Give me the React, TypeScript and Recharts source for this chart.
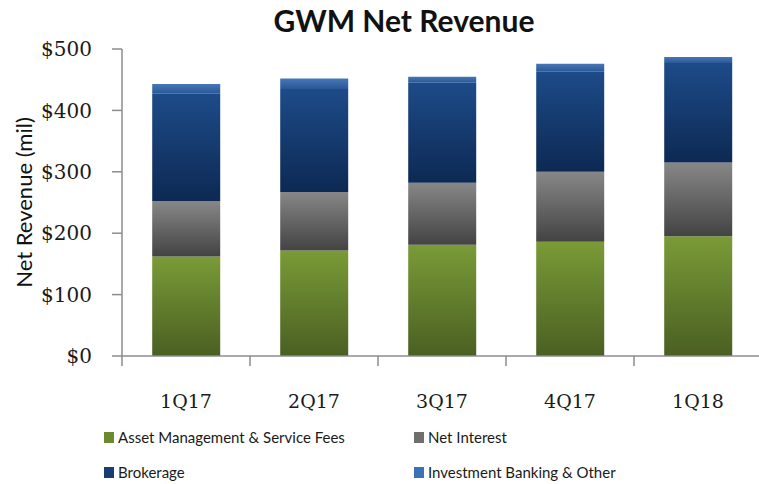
import React from 'react';
import { BarChart, Bar, XAxis, YAxis, Legend, Label } from 'recharts';

// values ($ mil)
const quarters = ['1Q17', '2Q17', '3Q17', '4Q17', '1Q18'];
const assetMgmt = [162, 172, 181, 186, 195];
const netInterest = [90, 95, 101, 114, 120];
const brokerage = [175, 168, 163, 163, 162];
const ibOther = [16, 17, 10, 13, 10];
const yTicks = [0, 100, 200, 300, 400, 500];

const seriesInfo = [
    { key: 'asset', name: 'Asset Management & Service Fees', swatch: '#6b8a2f', grad: 'gGreen' },
    { key: 'interest', name: 'Net Interest', swatch: '#6f6f6f', grad: 'gGray' },
    { key: 'brokerage', name: 'Brokerage', swatch: '#173d73', grad: 'gNavy' },
    { key: 'ib', name: 'Investment Banking & Other', swatch: '#3c72b8', grad: 'gBlue' },
];

const W = 759;
const H = 484;
const AXIS_W = 122;
const RIGHT = -3;
const HALF_BAND = (W - AXIS_W - RIGHT) / quarters.length / 2;

const serif = '"DejaVu Serif", serif';
const sans = 'Lato, "Open Sans", sans-serif';

const QuarterTick = (props: any) => {
    const { x, y, payload } = props;
    const half = payload && payload.offset ? payload.offset : HALF_BAND;
    return (
        <g>
            <line x1={x - half} x2={x - half} y1={y} y2={y + 10} stroke="#8c8c8c" strokeWidth={1.5} />
            <text x={x} y={y + 52} textAnchor="middle" fontFamily={serif} fontSize={19} fill="#1a1a1a">
                {payload.value}
            </text>
        </g>
    );
};

const LegendBox = () => {
    const cols = [104, 414];
    const rows = [17, 52];
    return (
        <div style={{ position: 'relative', width: W, height: 64 }}>
            {seriesInfo.map((s, i) => (
                <div
                    key={s.key}
                    style={{
                        position: 'absolute',
                        left: cols[i % 2],
                        top: rows[Math.floor(i / 2)] - 9,
                        height: 18,
                        display: 'flex',
                        alignItems: 'center',
                        fontFamily: sans,
                        fontSize: 15,
                        color: '#1a1a1a',
                        whiteSpace: 'nowrap',
                    }}
                >
                    <span style={{ width: 10, height: 11, background: s.swatch, marginRight: 4, display: 'inline-block' }} />
                    {s.name}
                </div>
            ))}
        </div>
    );
};

export default function App() {
    const data = quarters.map((q, i) => ({
        quarter: q,
        asset: assetMgmt[i],
        interest: netInterest[i],
        brokerage: brokerage[i],
        ib: ibOther[i],
    }));

    return (
        <div style={{ position: 'fixed', left: 0, top: 0, width: W, height: H, background: '#fff', overflow: 'hidden' }}>
            <div
                style={{
                    position: 'absolute',
                    left: 0,
                    width: 808,
                    top: 2,
                    textAlign: 'center',
                    fontFamily: sans,
                    fontWeight: 700,
                    fontSize: 30,
                    color: '#111',
                }}
            >
                GWM Net Revenue
            </div>
            <BarChart
                width={W}
                height={H}
                data={data}
                margin={{ top: 49, right: RIGHT, left: 0, bottom: 0 }}
                barCategoryGap="23.6%"
            >
                <defs>
                    <linearGradient id="gGreen" x1="0" y1="0" x2="0" y2="1">
                        <stop offset="0%" stopColor="#7a9b37" />
                        <stop offset="100%" stopColor="#4a5f22" />
                    </linearGradient>
                    <linearGradient id="gGray" x1="0" y1="0" x2="0" y2="1">
                        <stop offset="0%" stopColor="#878787" />
                        <stop offset="100%" stopColor="#434343" />
                    </linearGradient>
                    <linearGradient id="gNavy" x1="0" y1="0" x2="0" y2="1">
                        <stop offset="0%" stopColor="#1d4b89" />
                        <stop offset="100%" stopColor="#0d2953" />
                    </linearGradient>
                    <linearGradient id="gBlue" x1="0" y1="0" x2="0" y2="1">
                        <stop offset="0%" stopColor="#4677b8" />
                        <stop offset="100%" stopColor="#2a5896" />
                    </linearGradient>
                </defs>
                <XAxis
                    dataKey="quarter"
                    height={64}
                    stroke="#8c8c8c"
                    strokeWidth={1.5}
                    tickLine={false}
                    tickSize={0}
                    tickMargin={0}
                    interval={0}
                    tick={<QuarterTick />}
                />
                <YAxis
                    width={AXIS_W}
                    domain={[0, 500]}
                    ticks={yTicks}
                    stroke="#8c8c8c"
                    strokeWidth={1.5}
                    tickSize={10}
                    tickMargin={20}
                    tickFormatter={(v) => `$${v}`}
                    tick={{ fontFamily: serif, fontSize: 20, fill: '#1a1a1a' }}
                >
                    <Label
                        content={({ viewBox }: any) => {
                            const cy = viewBox.y + viewBox.height / 2;
                            return (
                                <text
                                    x={32}
                                    y={cy}
                                    transform={`rotate(-90, 32, ${cy})`}
                                    textAnchor="middle"
                                    fontFamily={sans}
                                    fontSize={22}
                                    fill="#111"
                                >
                                    Net Revenue (mil)
                                </text>
                            );
                        }}
                    />
                </YAxis>
                <Legend verticalAlign="bottom" height={64} content={<LegendBox />} wrapperStyle={{ left: 0, width: W }} />
                {seriesInfo.map((s) => (
                    <Bar
                        key={s.key}
                        dataKey={s.key}
                        name={s.name}
                        stackId="rev"
                        fill={`url(#${s.grad})`}
                        isAnimationActive={false}
                    />
                ))}
            </BarChart>
        </div>
    );
}
